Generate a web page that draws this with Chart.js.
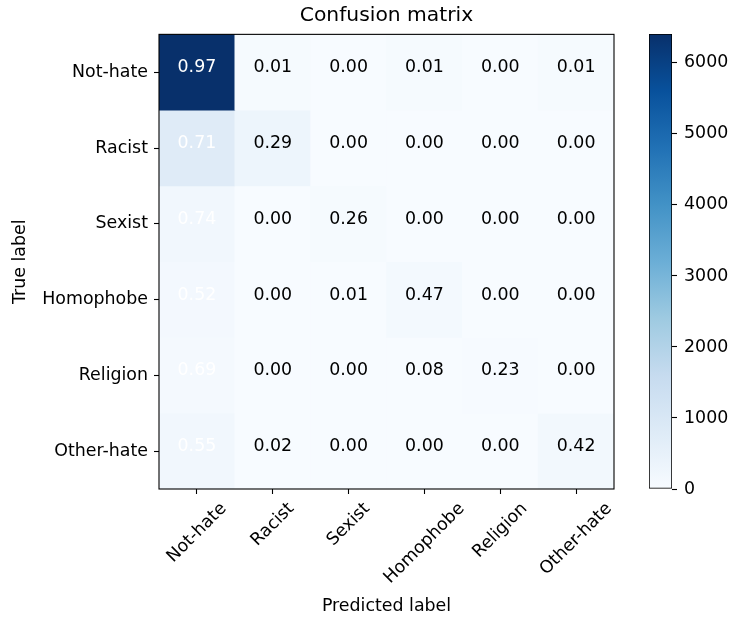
<!DOCTYPE html>
<html>
<head>
<meta charset="utf-8">
<script src="https://cdn.jsdelivr.net/npm/chart.js@4/dist/chart.umd.min.js"></script>
<style>
  html, body { margin: 0; padding: 0; background: #fff; }
  #wrap { position: relative; width: 733px; height: 621px; }
  canvas { position: absolute; top: 0; }
</style>
</head>
<body>
<div id="wrap">
  <canvas id="matrix" width="733" height="621" style="left:0"></canvas>
  <canvas id="cbar" width="113" height="621" style="left:620px"></canvas>
</div>
<script>
'use strict';

const trueLabels = ['Not-hate', 'Racist', 'Sexist', 'Homophobe', 'Religion', 'Other-hate'];
const predictedLabels = ['Not-hate', 'Racist', 'Sexist', 'Homophobe', 'Religion', 'Other-hate'];

// row-normalised values printed in the cells
const notHateNorm = [0.97, 0.01, 0.00, 0.01, 0.00, 0.01];
const racistNorm = [0.71, 0.29, 0.00, 0.00, 0.00, 0.00];
const sexistNorm = [0.74, 0.00, 0.26, 0.00, 0.00, 0.00];
const homophobeNorm = [0.52, 0.00, 0.01, 0.47, 0.00, 0.00];
const religionNorm = [0.69, 0.00, 0.00, 0.08, 0.23, 0.00];
const otherHateNorm = [0.55, 0.02, 0.00, 0.00, 0.00, 0.42];

// raw counts (estimated from cell shades) that drive the colours
const notHateCounts = [6408, 66, 13, 60, 7, 52];
const racistCounts = [780, 320, 2, 3, 1, 2];
const sexistCounts = [200, 1, 70, 1, 0, 0];
const homophobeCounts = [135, 1, 3, 122, 0, 1];
const religionCounts = [95, 0, 0, 11, 32, 0];
const otherHateCounts = [200, 7, 1, 2, 1, 153];

const colorbarTicks = [0, 1000, 2000, 3000, 4000, 5000, 6000];

const normRows = [notHateNorm, racistNorm, sexistNorm, homophobeNorm, religionNorm, otherHateNorm];
const countRows = [notHateCounts, racistCounts, sexistCounts, homophobeCounts, religionCounts, otherHateCounts];

const FONT = 'DejaVu Sans';
const maxCount = Math.max(...countRows.flat());
const maxNorm = Math.max(...normRows.flat());

// matplotlib "Blues"
const BLUES = [
  [247, 251, 255], [222, 235, 247], [198, 219, 239], [158, 202, 225], [107, 174, 214],
  [66, 146, 198], [33, 113, 181], [8, 81, 156], [8, 48, 107]
];
function blues(t) {
  t = Math.min(1, Math.max(0, t));
  const pos = t * (BLUES.length - 1);
  const i = Math.min(BLUES.length - 2, Math.floor(pos));
  const f = pos - i;
  const c = BLUES[i].map((v, k) => Math.round(v + (BLUES[i + 1][k] - v) * f));
  return `rgb(${c[0]},${c[1]},${c[2]})`;
}

const datasets = countRows.map((row, i) => ({
  label: trueLabels[i],
  data: row.map(() => [i - 0.5, i + 0.5]),
  backgroundColor: row.map(v => blues(v / maxCount)),
  borderWidth: 0,
  grouped: false,
  barPercentage: 1,
  categoryPercentage: 1
}));

// cell annotations sit on their baseline at the cell centre
const cellText = {
  id: 'cellText',
  afterDatasetsDraw(chart) {
    const ctx = chart.ctx;
    ctx.save();
    ctx.font = `17.4px "${FONT}"`;
    ctx.textAlign = 'center';
    ctx.textBaseline = 'alphabetic';
    chart.data.datasets.forEach((ds, i) => {
      chart.getDatasetMeta(i).data.forEach((bar, j) => {
        const v = normRows[i][j];
        const p = bar.getCenterPoint();
        ctx.fillStyle = v > maxNorm / 2 ? '#fff' : '#000';
        ctx.fillText(v.toFixed(2), p.x, p.y);
      });
    });
    ctx.restore();
  }
};

const frame = {
  id: 'frame',
  afterDraw(chart) {
    const a = chart.chartArea;
    const ctx = chart.ctx;
    ctx.save();
    ctx.strokeStyle = '#000';
    ctx.lineWidth = 1.1;
    ctx.strokeRect(a.left, a.top, a.right - a.left, a.bottom - a.top);
    ctx.restore();
  }
};

// x tick labels rotated 45deg, centred on the tick like matplotlib
const xLabels = {
  id: 'xLabels',
  afterDraw(chart) {
    const scale = chart.scales.x;
    const ctx = chart.ctx;
    const top = chart.chartArea.bottom + 10;
    ctx.save();
    ctx.font = `17.4px "${FONT}"`;
    ctx.fillStyle = '#000';
    ctx.textAlign = 'center';
    ctx.textBaseline = 'middle';
    predictedLabels.forEach((lab, i) => {
      const x = scale.getPixelForTick(i);
      const w = ctx.measureText(lab).width;
      const half = (w + 20) * Math.SQRT1_2 / 2;
      ctx.save();
      ctx.translate(x, top + half);
      ctx.rotate(-Math.PI / 4);
      ctx.fillText(lab, 0, 0);
      ctx.restore();
    });
    ctx.restore();
  }
};

new Chart(document.getElementById('matrix').getContext('2d'), {
  type: 'bar',
  data: { labels: predictedLabels, datasets },
  plugins: [cellText, frame, xLabels],
  options: {
    responsive: false,
    animation: false,
    layout: { padding: { left: 0, right: 119, top: 0, bottom: 0 } },
    scales: {
      x: {
        type: 'category',
        offset: true,
        afterFit: s => { s.height = 132; },
        border: { display: false },
        grid: { offset: false, drawOnChartArea: false, drawTicks: true, tickLength: 5, color: '#000', tickWidth: 1.1 },
        ticks: { display: false },
        title: {
          display: true,
          text: 'Predicted label',
          color: '#000',
          font: { family: FONT, size: 17.4 },
          padding: { top: 0, bottom: 4 }
        }
      },
      y: {
        type: 'linear',
        min: -0.5,
        max: 5.5,
        reverse: true,
        afterFit: s => { s.width = 159; },
        afterBuildTicks: s => { s.ticks = trueLabels.map((_, i) => ({ value: i })); },
        border: { display: false },
        grid: { drawOnChartArea: false, drawTicks: true, tickLength: 5, color: '#000', tickWidth: 1.1 },
        ticks: {
          padding: 6,
          color: '#000',
          font: { family: FONT, size: 17.4 },
          callback: v => trueLabels[v]
        },
        title: {
          display: true,
          text: 'True label',
          color: '#000',
          font: { family: FONT, size: 17.4 },
          padding: { top: 10, bottom: 0 }
        }
      }
    },
    plugins: {
      legend: { display: false },
      tooltip: { enabled: false },
      title: {
        display: true,
        text: 'Confusion matrix',
        fullSize: false,
        color: '#000',
        font: { family: FONT, size: 20.3, weight: 'normal' },
        padding: { top: 4, bottom: 6 }
      }
    }
  }
});

// colour bar
new Chart(document.getElementById('cbar').getContext('2d'), {
  type: 'bar',
  data: {
    labels: [''],
    datasets: [{
      data: [[0, maxCount]],
      backgroundColor: ctx => {
        const area = ctx.chart.chartArea;
        if (!area || !isFinite(area.top) || !isFinite(area.bottom)) return blues(0.5);
        const g = ctx.chart.ctx.createLinearGradient(0, area.bottom, 0, area.top);
        BLUES.forEach((_, k) => g.addColorStop(k / (BLUES.length - 1), blues(k / (BLUES.length - 1))));
        return g;
      },
      borderColor: '#000',
      borderWidth: 1.1,
      borderSkipped: false,
      barPercentage: 1,
      categoryPercentage: 1
    }]
  },
  options: {
    responsive: false,
    animation: false,
    layout: { padding: { left: 29, right: 0, top: 34, bottom: 132 } },
    scales: {
      x: { display: false },
      y: {
        position: 'right',
        min: 0,
        max: maxCount,
        afterFit: s => { s.width = 61; },
        afterBuildTicks: s => { s.ticks = colorbarTicks.map(v => ({ value: v })); },
        border: { display: false },
        grid: { drawOnChartArea: false, drawTicks: true, tickLength: 5, color: '#000', tickWidth: 1.1 },
        ticks: {
          padding: 7,
          color: '#000',
          font: { family: FONT, size: 17.4 },
          callback: v => String(v)
        }
      }
    },
    plugins: { legend: { display: false }, tooltip: { enabled: false } }
  }
});
</script>
</body>
</html>
